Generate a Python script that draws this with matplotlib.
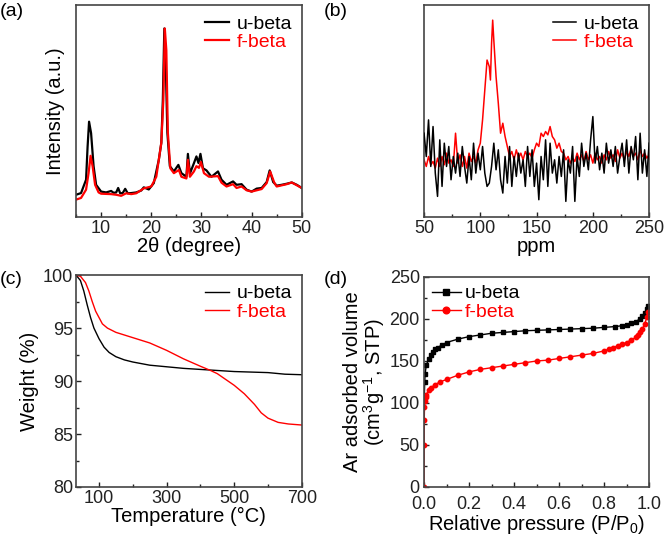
import numpy as np
import matplotlib
matplotlib.use('Agg')
import matplotlib.pyplot as plt
from matplotlib.ticker import MultipleLocator

plt.rcParams['font.family'] = ['Liberation Sans', 'DejaVu Sans']
plt.rcParams['mathtext.fontset'] = 'custom'
plt.rcParams['mathtext.rm'] = 'Liberation Sans'

# (a) XRD patterns
xrd_theta_u = [5, 6, 7, 7.3, 7.6, 8, 8.5, 9, 10, 11, 12, 12.5, 13, 13.4, 13.8, 14.3, 14.8, 15.3,
               16, 17, 18, 18.5, 19.5, 20.5, 21.5, 22, 22.3, 22.6, 22.9, 23.2, 23.7, 24.5, 25.4,
               26, 27, 27.3, 27.7, 28.5, 29, 29.4, 29.8, 30.3, 31, 32, 33.3, 34, 35, 36.3, 37, 38,
               39, 40, 41, 42, 43, 43.6, 44.3, 45, 46, 47, 48, 49, 50]
xrd_u = [10.5, 11.3, 17.6, 33, 45, 39.6, 24, 15.2, 12, 11.6, 12.3, 11.4, 11.6, 13.7, 11.2, 11.3, 13.3, 11.2,
         11.3, 11.6, 12.5, 14, 13, 16, 27, 35, 55, 89, 71, 40, 24, 21.5, 24.6,
         20.7, 19, 29.8, 20.5, 25.4, 28.6, 25.5, 29.8, 23, 22, 19, 21.5, 17.6, 15.2, 16.8, 15.2, 15.5,
         12.9, 12, 13.4, 13.7, 16.5, 22, 16.5, 14.8, 15.2, 15.7, 16.3, 15.2, 13.7]
xrd_theta_f = [5, 6, 7, 7.5, 7.9, 8.3, 8.8, 9.5, 10, 11, 12, 13, 14, 15, 16, 17, 18.5, 20, 21,
               22, 22.4, 22.7, 23, 23.3, 23.8, 24.5, 25.5, 26, 27, 27.3, 27.7, 28.5, 29, 29.5, 29.9,
               30.5, 31.5, 33.3, 34, 35, 36.3, 37, 38, 39, 40, 42, 43, 43.7, 44.5, 45, 47, 48, 50]
xrd_f = [8.2, 9, 12.9, 20.7, 28.9, 24, 15.2, 11.6, 11, 10.9, 10.8, 10.5, 10, 11.2, 10.8, 11.2, 13.5, 14.4, 19,
         35, 55, 89, 78.8, 40, 23, 20.7, 22.2, 19, 18.2, 27, 19, 21.5, 24, 23.2, 26,
         20.7, 19, 19.3, 16.2, 14.4, 15.5, 13.7, 14.4, 12.6, 12, 13.2, 16, 21.5, 16.3, 14.4, 15.5, 16.3, 13.7]

# (b) NMR spectra
nmr_ppm = [50, 52, 54, 56, 58, 60, 62, 64, 66, 68, 70, 72, 74, 76, 78, 80, 82, 84, 86, 88, 90, 92, 94,
           96, 98, 100, 102, 104, 106, 108, 110, 112, 114, 116, 118, 120, 122, 124, 126, 128, 130, 132,
           134, 136, 138, 140, 142, 144, 146, 148, 150, 152, 154, 156, 158, 160, 162, 164, 166, 168, 170,
           172, 174, 176, 178, 180, 182, 184, 186, 188, 190, 192, 194, 196, 198, 200, 202, 204, 206, 208,
           210, 212, 214, 216, 218, 220, 222, 224, 226, 228, 230, 232, 234, 236, 238, 240, 242, 244, 246,
           248, 250]
nmr_u = [252, 182, 292, 152, 272, 132, 62, 232, 92, 222, 152, 212, 112, 182, 132, 192, 122, 212, 152, 102,
         182, 112, 222, 132, 192, 142, 212, 132, 92, 102, 152, 222, 142, 202, 112, 72, 182, 102, 212, 92,
         182, 122, 192, 132, 172, 92, 212, 122, 202, 92, 162, 52, 182, 112, 232, 92, 222, 132, 172, 102,
         182, 122, 202, 47, 172, 132, 212, 47, 182, 122, 222, 152, 192, 142, 232, 302, 162, 212, 142, 192,
         132, 222, 162, 202, 152, 212, 132, 182, 222, 152, 232, 132, 212, 172, 242, 112, 252, 132, 202,
         122, 222]
nmr_ppm_f = [50, 52, 54, 56, 58, 60, 62, 64, 66, 68, 70, 72, 74, 76, 78, 80, 82, 84, 86, 88, 90, 92, 94,
             96, 98, 100, 102, 104, 106, 108, 109, 110, 111, 112, 114, 116, 118, 120, 122, 124, 126, 128,
             130, 132, 134, 136, 138, 140, 142, 144, 146, 148, 150, 152, 154, 156, 158, 160, 162, 164, 166,
             168, 170, 172, 174, 176, 178, 180, 182, 184, 186, 188, 190, 192, 194, 196, 198, 200, 202, 204,
             206, 208, 210, 212, 214, 216, 218, 220, 222, 224, 226, 228, 230, 232, 234, 236, 238, 240, 242,
             244, 246, 248, 250]
nmr_f = [172, 152, 182, 157, 167, 147, 177, 152, 182, 157, 192, 162, 172, 152, 252, 162, 187, 152, 182, 147,
         192, 167, 182, 162, 202, 222, 292, 382, 472, 452, 412, 522, 592, 532, 422, 342, 252, 282, 242, 212,
         182, 197, 172, 202, 177, 192, 172, 197, 182, 192, 177, 202, 222, 212, 252, 242, 257, 247, 272, 242,
         232, 207, 222, 197, 192, 172, 182, 162, 177, 167, 192, 172, 187, 167, 197, 172, 187, 162, 192, 172,
         182, 162, 187, 172, 197, 177, 187, 167, 202, 177, 192, 172, 197, 182, 207, 182, 192, 172, 202, 182,
         192, 177, 187]

# (c) TGA
tga_temp_u = [32, 45, 55, 65, 75, 85, 100, 115, 130, 150, 175, 200, 250, 300, 350, 400, 450, 500, 550,
              600, 650, 700]
tga_u = [100, 99.5, 98.5, 97.2, 96, 95, 94, 93.2, 92.7, 92.3, 92.0, 91.8, 91.5, 91.35, 91.2, 91.1, 91.0,
         90.9, 90.85, 90.8, 90.65, 90.6]
tga_temp_f = [32, 45, 60, 70, 80, 90, 100, 110, 125, 150, 200, 250, 300, 350, 400, 430, 450, 500, 530,
              560, 580, 600, 630, 660, 700]
tga_f = [100, 99.9, 99.3, 98.5, 97.5, 96.6, 96.0, 95.4, 95.0, 94.6, 94.1, 93.6, 92.9, 92.1, 91.4, 91.0,
         90.7, 89.6, 88.8, 87.8, 87.0, 86.5, 86.1, 85.95, 85.85]

# (d) Ar isotherms
iso_p_u = [0.001, 0.003, 0.005, 0.01, 0.02, 0.03, 0.04, 0.05, 0.06, 0.08, 0.1, 0.15, 0.2, 0.25, 0.3,
           0.35, 0.4, 0.45, 0.5, 0.55, 0.6, 0.65, 0.7, 0.75, 0.8, 0.85, 0.88, 0.9, 0.92, 0.94, 0.96,
           0.97, 0.98, 0.99, 0.995]
iso_u = [105, 125, 135, 145, 152, 157, 161, 164, 166, 169, 172, 176, 179, 181, 183, 184, 185, 186, 186.5,
         187, 187.5, 188, 188.5, 189, 190, 191, 192, 193, 195, 197, 200, 203, 207, 212, 215]
iso_p_f = [0.0, 0.0005, 0.001, 0.002, 0.004, 0.007, 0.01, 0.02, 0.03, 0.05, 0.07, 0.1, 0.15, 0.2, 0.25,
           0.3, 0.35, 0.4, 0.45, 0.5, 0.55, 0.6, 0.65, 0.7, 0.75, 0.8, 0.82, 0.84, 0.86, 0.88, 0.9, 0.92,
           0.94, 0.95, 0.96, 0.97, 0.98, 0.99, 0.995]
iso_f = [0, 50, 80, 95, 102, 107, 110, 115, 118, 122, 125, 128, 133, 137, 140, 142, 144, 146, 148, 150,
         151, 153, 155, 157, 159, 162, 164, 166, 168, 170, 172, 175, 178, 181, 184, 188, 194, 202, 208]

TICK_FS = 13
LABEL_FS = 14.5
LEG_FS = 14

fig = plt.figure(figsize=(6.64, 5.39), dpi=100)
ax_a = fig.add_axes([0.1145, 0.5974, 0.340, 0.393])
ax_b = fig.add_axes([0.6386, 0.5974, 0.339, 0.393])
ax_c = fig.add_axes([0.1145, 0.0965, 0.340, 0.393])
ax_d = fig.add_axes([0.6386, 0.0965, 0.339, 0.3896])


def style(ax):
    for s in ax.spines.values():
        s.set_color('#444444')
        s.set_linewidth(1.2)
    ax.tick_params(direction='in', which='both', labelsize=TICK_FS, colors='#222222', width=1, pad=2)
    ax.tick_params(which='major', length=3.5)
    ax.tick_params(which='minor', length=2)


def legend(ax, handles, labels, colors, **kw):
    opts = dict(frameon=False, fontsize=LEG_FS, handletextpad=0.4, labelspacing=0.05)
    opts.update(kw)
    leg = ax.legend(handles, labels, **opts)
    for t, c in zip(leg.get_texts(), colors):
        t.set_color(c)


# (a)
la_u, = ax_a.plot(xrd_theta_u, xrd_u, color='black', lw=1.6)
la_f, = ax_a.plot(xrd_theta_f, xrd_f, color='red', lw=1.6)
ax_a.set_xlim(5, 50)
ax_a.set_ylim(0, 100)
ax_a.set_yticks([])
ax_a.xaxis.set_major_locator(MultipleLocator(10))
ax_a.xaxis.set_minor_locator(MultipleLocator(5))
ax_a.set_xlabel('2θ (degree)', fontsize=LABEL_FS, labelpad=0)
ax_a.set_ylabel('Intensity (a.u.)', fontsize=LABEL_FS, labelpad=8)
style(ax_a)
legend(ax_a, [la_u, la_f], ['u-beta', 'f-beta'], ['black', 'red'], loc='upper right',
       handlelength=1.2, borderaxespad=0.1)

# (b)
lb_f, = ax_b.plot(nmr_ppm_f, nmr_f, color='red', lw=1.1, zorder=2)
lb_u, = ax_b.plot(nmr_ppm, nmr_u, color='black', lw=1.1, zorder=3)
ax_b.set_xlim(50, 250)
ax_b.set_ylim(0, 637)
ax_b.set_yticks([])
ax_b.xaxis.set_major_locator(MultipleLocator(50))
ax_b.xaxis.set_minor_locator(MultipleLocator(25))
ax_b.set_xlabel('ppm', fontsize=LABEL_FS, labelpad=0)
style(ax_b)
legend(ax_b, [lb_u, lb_f], ['u-beta', 'f-beta'], ['black', 'red'], loc='upper right',
       handlelength=1.2, borderaxespad=0.1)

# (c)
lc_u, = ax_c.plot(tga_temp_u, tga_u, color='black', lw=1.0)
lc_f, = ax_c.plot(tga_temp_f, tga_f, color='red', lw=1.0)
ax_c.set_xlim(32, 700)
ax_c.set_ylim(80, 100)
ax_c.set_xticks([100, 300, 500, 700])
ax_c.xaxis.set_minor_locator(MultipleLocator(100))
ax_c.yaxis.set_major_locator(MultipleLocator(5))
ax_c.yaxis.set_minor_locator(MultipleLocator(2.5))
ax_c.set_xlabel('Temperature (°C)', fontsize=LABEL_FS, labelpad=0)
ax_c.set_ylabel('Weight (%)', fontsize=LABEL_FS, labelpad=3)
style(ax_c)
legend(ax_c, [lc_u, lc_f], ['u-beta', 'f-beta'], ['black', 'red'], loc='upper right',
       handlelength=1.2, borderaxespad=0.1)

# (d)
ld_u, = ax_d.plot(iso_p_u, iso_u, color='black', lw=1.0, marker='s', ms=3.2)
ld_f, = ax_d.plot(iso_p_f, iso_f, color='red', lw=1.0, marker='o', ms=3.2)
ax_d.set_xlim(0, 1.0)
ax_d.set_ylim(0, 250)
ax_d.xaxis.set_major_locator(MultipleLocator(0.2))
ax_d.xaxis.set_minor_locator(MultipleLocator(0.1))
ax_d.yaxis.set_major_locator(MultipleLocator(50))
ax_d.yaxis.set_minor_locator(MultipleLocator(25))
ax_d.set_xlabel('Relative pressure (P/P$_0$)', fontsize=LABEL_FS, labelpad=0)
ax_d.set_ylabel('Ar adsorbed volume\n(cm$^3$g$^{-1}$, STP)', fontsize=LABEL_FS, labelpad=2,
                linespacing=0.95)
style(ax_d)
ax_d.tick_params(axis='x', pad=6.5)
ax_d.tick_params(axis='y', pad=3)
legend(ax_d, [ld_u, ld_f], ['u-beta', 'f-beta'], ['black', 'red'], loc='upper left',
       handlelength=1.5, handletextpad=0.2, borderaxespad=0.0, markerscale=1.5)

for label, x, y in [('(a)', 0.0, 0.995), ('(b)', 0.488, 0.995), ('(c)', 0.0, 0.497), ('(d)', 0.488, 0.497)]:
    fig.text(x, y, label, fontsize=LABEL_FS - 0.5, ha='left', va='top')

fig.savefig('out.png', dpi=100)
